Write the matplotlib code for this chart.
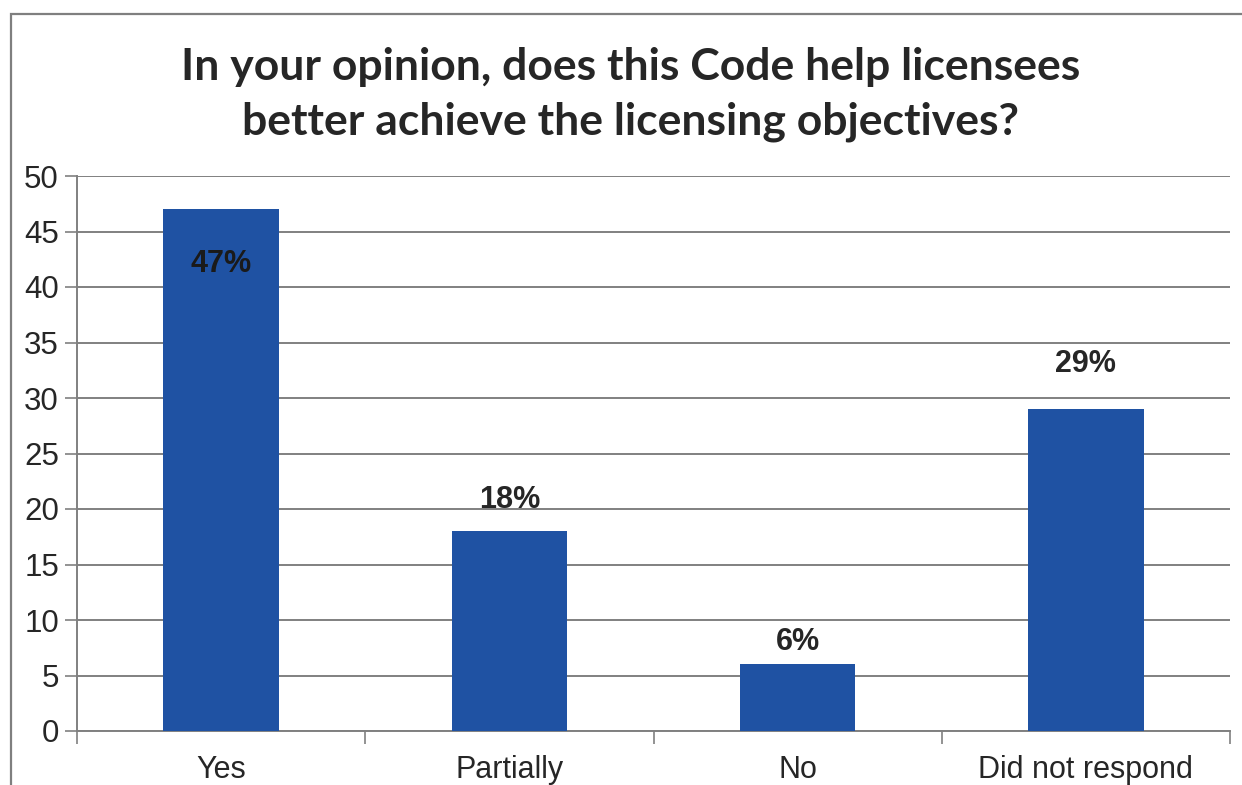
import matplotlib.pyplot as plt
from matplotlib.patches import Rectangle

categories = ["Yes", "Partially", "No", "Did not respond"]
values = [47, 18, 6, 29]
labels = ["47%", "18%", "6%", "29%"]
yticks = [0, 5, 10, 15, 20, 25, 30, 35, 40, 45, 50]
title_lines = ["In your opinion, does this Code help licensees",
               "better achieve the licensing objectives?"]

BAR = "#1F52A3"
GRID = "#808080"
TEXT = "#262626"

# vertical nudge of each value label relative to its bar top (data units)
label_nudge = [-3.6, 1.5, 0.7, 2.7]

W, H = 1242, 785
fig = plt.figure(figsize=(W / 100, H / 100), dpi=100)
ax = fig.add_axes([77 / W, 1 - 731 / H, (1230 - 77) / W, (731 - 176) / H])

# outer chart frame (left and top edges visible)
fig.patches.append(Rectangle((11 / W, -0.1), 1.2, 1 - 14 / H + 0.1,
                             transform=fig.transFigure, fill=False,
                             edgecolor="#7f7f7f", lw=1.6, zorder=0))

x = range(len(categories))
ax.bar(x, values, width=0.4, color=BAR, zorder=3)

for i, (v, lab, dy) in enumerate(zip(values, labels, label_nudge)):
    inside = dy < 0
    ax.text(i, v + dy, lab, ha="center", va="top" if inside else "bottom",
            fontsize=22, fontweight="bold",
            color="#1a1a1a" if inside else TEXT,
            family="Liberation Sans", zorder=4)

ax.set_xlim(-0.5, len(categories) - 0.5)
ax.set_ylim(0, 50)
ax.set_yticks(yticks)
ax.set_yticklabels([str(t) for t in yticks], fontsize=22.5, color=TEXT,
                   family="Liberation Sans")
ax.set_xticks(list(x))
ax.set_xticklabels(categories, fontsize=22, color=TEXT, family="Liberation Sans")
ax.tick_params(axis="x", length=0, pad=17)
ax.tick_params(axis="y", length=9, width=1.2, color=GRID, pad=4)

# category boundary ticks below the baseline
ax.set_xticks([-0.5, 0.5, 1.5, 2.5, 3.5], minor=True)
ax.tick_params(axis="x", which="minor", length=9, width=1.2, color=GRID,
               direction="out")

ax.yaxis.grid(True, color=GRID, lw=1.4, zorder=1)
ax.set_axisbelow(True)
for s in ("top", "right"):
    ax.spines[s].set_visible(False)
ax.spines["left"].set_color(GRID)
ax.spines["left"].set_linewidth(1.4)
ax.spines["bottom"].set_color(GRID)
ax.spines["bottom"].set_linewidth(1.4)

for line, base in zip(title_lines, (80, 134)):
    fig.text(0.508, 1 - base / H, line, ha="center", va="baseline",
             fontsize=32, fontweight="bold", color=TEXT, family="Lato")

fig.savefig("out.png", dpi=100)
